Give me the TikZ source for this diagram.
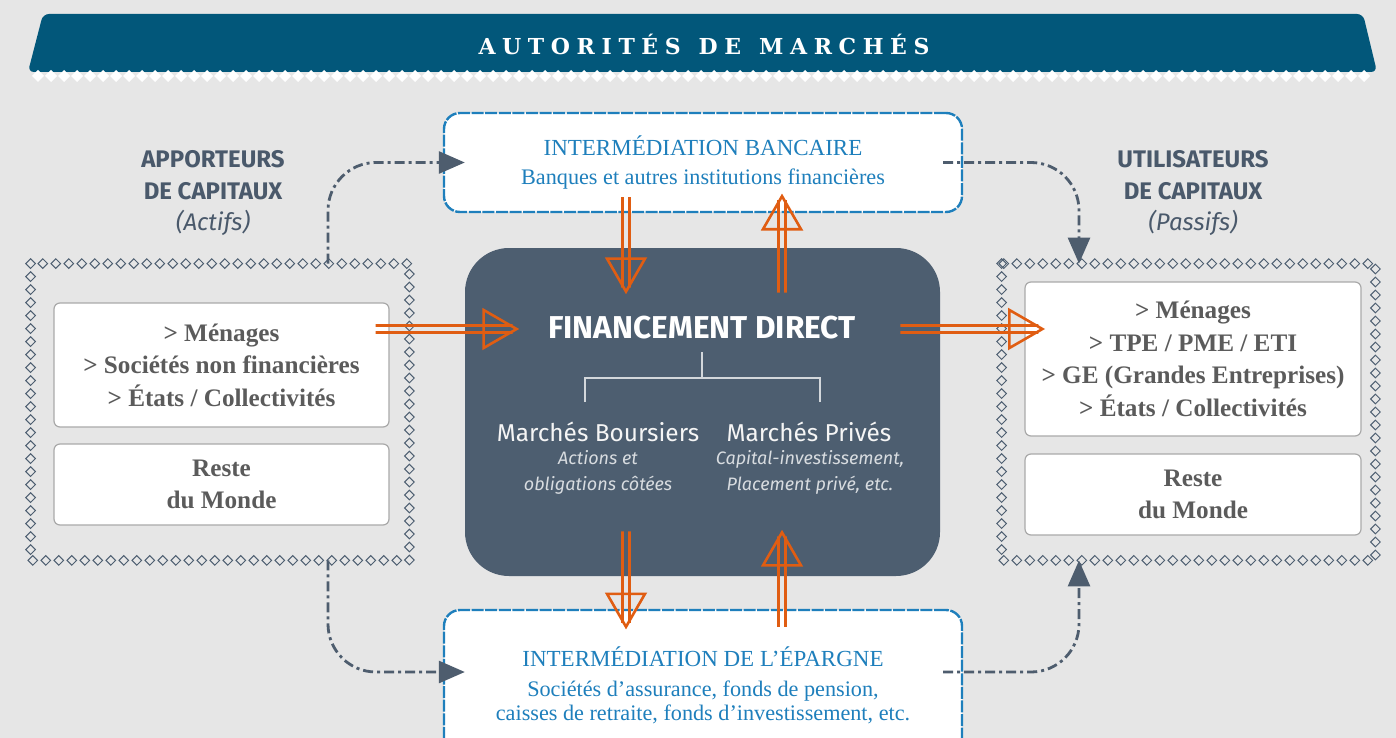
\documentclass[tikz,border=0pt]{standalone}
\usepackage{fontspec}
\setmainfont{Liberation Serif}
\setsansfont{Fira Sans}
\newfontfamily\bannerfont[LetterSpace=30]{DejaVu Serif Bold}
\usetikzlibrary{calc,arrows.meta,decorations.markings}

\definecolor{bgcol}{HTML}{E6E6E6}
\definecolor{bannercol}{HTML}{02577A}
\definecolor{headcol}{HTML}{4A596B}
\definecolor{boxline}{HTML}{A9A9A9}
\definecolor{txtgray}{HTML}{5B5B5B}
\definecolor{bankblue}{HTML}{1E7FBC}
\definecolor{chaincol}{HTML}{4E5F71}
\definecolor{fdcol}{HTML}{4D5E70}
\definecolor{flowcol}{HTML}{E05D12}
\definecolor{conncol}{HTML}{4E5D6E}
\definecolor{treecol}{HTML}{D3D7DB}
\definecolor{subcol}{HTML}{D8DCE0}

\begin{document}
\begin{tikzpicture}[x=0.5pt,y=-0.5pt,
    heading/.style={font=\sffamily\bfseries\fontsize{12}{15.75}\selectfont,
      text=headcol, align=center},
    greybox/.style={draw=boxline, fill=white, rounded corners=3pt,
      line width=0.6pt, minimum width=167.5pt, align=center, text=txtgray,
      font=\bfseries\fontsize{12.6}{16.3}\selectfont},
    bankbox/.style={draw=bankblue, fill=white, line width=1.2pt,
      dash pattern=on 6pt off 0.8pt, rounded corners=8pt,
      minimum width=259pt, align=center, text=bankblue,
      font=\fontsize{11.1}{12}\selectfont},
    chain/.style={decorate, decoration={markings,
      mark=between positions 0 and 1 step 6.5pt with
      {\draw [chaincol, line width=0.5pt] (-2.4pt,0) -- (0,2.4pt) --
        (2.4pt,0) -- (0,-2.4pt) -- cycle ;}}},
    mkt/.style={font=\sffamily\fontsize{12.2}{13}\selectfont, text=white!96!black},
    mktsub/.style={font=\sffamily\itshape\fontsize{9}{13}\selectfont,
      text=subcol, align=center},
    conn/.style={draw=conncol, line width=1.4pt,
      dash pattern=on 5pt off 2pt on 1.5pt off 2pt, rounded corners=24pt,
      -{Triangle[length=13pt,width=11pt]}},
    flow/.style={draw=flowcol, line width=1.3pt, line join=miter,
      to path={
        ($(\tikztostart)!1.75pt!90:(\tikztotarget)$) --
        ($(\tikztotarget)!2pt!(\tikztostart)!1.75pt!-90:(\tikztostart)$)
        ($(\tikztostart)!1.75pt!-90:(\tikztotarget)$) --
        ($(\tikztotarget)!2pt!(\tikztostart)!1.75pt!90:(\tikztostart)$)
        (\tikztotarget) --
        ($(\tikztotarget)!16.5pt!(\tikztostart)!9.5pt!90:(\tikztostart)$) --
        ($(\tikztotarget)!16.5pt!(\tikztostart)!9.5pt!-90:(\tikztostart)$) -- cycle}}]
    \useasboundingbox (0,0) rectangle (1396,738) ;
    \fill [bgcol] (0,0) rectangle (1396,738) ;
    \fill [bannercol, rounded corners=3pt] (43,14) -- (1363,14) -- (1377,72) --
      (28,72) -- cycle ;
    \foreach \i in {0,...,102}
      \fill [white] (38+13*\i,76) ++(-6,0) -- ++(6,-6) -- ++(6,6) --
        ++(-6,6) -- cycle ;
    \node [font=\bannerfont\fontsize{11}{13}\selectfont, text=white]
      (banner) at (704,44) {AUTORITÉS\hspace{9pt}DE\hspace{9pt}MARCHÉS} ;
    \node [heading] (apport) at (213,193.5)
      {APPORTEURS\\DE CAPITAUX\\{\mdseries\itshape (Actifs)}} ;
    \node [heading] (utilis) at (1193,193.5)
      {UTILISATEURS\\DE CAPITAUX\\{\mdseries\itshape (Passifs)}} ;
    \node [minimum width=189pt, minimum height=148pt] (leftgrp) at (220,412) {} ;
    \node [minimum width=186.5pt, minimum height=148pt] (rightgrp) at (1188.5,412) {} ;
    \path [chain] (leftgrp.north west) rectangle (leftgrp.south east) ;
    \path [chain] (rightgrp.north west) rectangle (rightgrp.south east) ;
    \node [greybox, minimum height=62pt] (lbox1) at (221.5,365)
      {> Ménages\\> Sociétés non financières\\> États / Collectivités} ;
    \node [greybox, minimum height=40.5pt] (lbox2) at (221.5,484.5)
      {Reste\\du Monde} ;
    \node [greybox, minimum width=168pt, minimum height=77pt] (rbox1) at (1193,359)
      {> Ménages\\> TPE / PME / ETI\\> GE (Grandes Entreprises)\\> États / Collectivités} ;
    \node [greybox, minimum width=168pt, minimum height=40.5pt] (rbox2) at (1193,494.5)
      {Reste\\du Monde} ;
    \node [bankbox, minimum height=49.5pt] (topbox) at (703,162.5)
      {{\fontsize{11.5}{12}\selectfont INTERMÉDIATION BANCAIRE}\\[2.5pt]
       Banques et autres institutions financières} ;
    \node [bankbox, minimum height=75pt] (botbox) at (703,685)
      {{\fontsize{11.5}{12}\selectfont INTERMÉDIATION DE L’ÉPARGNE}\\[3pt]
       Sociétés d’assurance, fonds de pension,\\
       caisses de retraite, fonds d’investissement, etc.} ;
    \node [fill=fdcol, rounded corners=22pt, minimum width=237.5pt,
      minimum height=164pt] (fd) at (702.5,412) {} ;
    \node [font=\sffamily\bfseries\fontsize{15.8}{17}\selectfont, text=white]
      (fdtitle) at (702,328) {FINANCEMENT DIRECT} ;
    \draw [treecol, line width=0.75pt] (702,352) -- (702,378) ;
    \draw [treecol, line width=0.75pt] (585,402) |- (820,378) -- (820,402) ;
    \node [mkt] (mb) at (598,432) {Marchés Boursiers} ;
    \node [mktsub] (mbsub) at (598,472) {Actions et\\obligations côtées} ;
    \node [mkt] (mp) at (809,432) {Marchés Privés} ;
    \node [mktsub] (mpsub) at (810,472) {Capital-investissement,\\Placement privé, etc.} ;
    \draw [conn] ($(leftgrp.north)+(108,0)$) |- ($(topbox.west)+(22,0)$) ;
    \draw [conn] ($(topbox.east)+(-20,0)$) -| ($(rightgrp.north)+(-109.5,0)$) ;
    \draw [conn] ($(leftgrp.south)+(108,0)$) |- ($(botbox.west)+(22,-13)$) ;
    \draw [conn] ($(botbox.east)+(-20,-13)$) -| ($(rightgrp.south)+(-109.5,0)$) ;
    \draw [flow] ($(fd.west)+(-89,-83)$) to ($(fd.west)+(52,-83)$) ;
    \draw [flow] ($(fd.east)+(-40,-83)$) to ($(fd.east)+(102,-83)$) ;
    \draw [flow] ($(topbox.south)+(-77,-16)$) to ($(fd.north)+(-76.5,44)$) ;
    \draw [flow] ($(fd.north)+(79.5,45)$) to ($(topbox.south)+(79,-17)$) ;
    \draw [flow] ($(fd.south)+(-76.5,-45)$) to ($(botbox.north)+(-77,18)$) ;
    \draw [flow] ($(botbox.north)+(79,18)$) to ($(fd.south)+(79.5,-44)$) ;
  \end{tikzpicture}
\end{document}
